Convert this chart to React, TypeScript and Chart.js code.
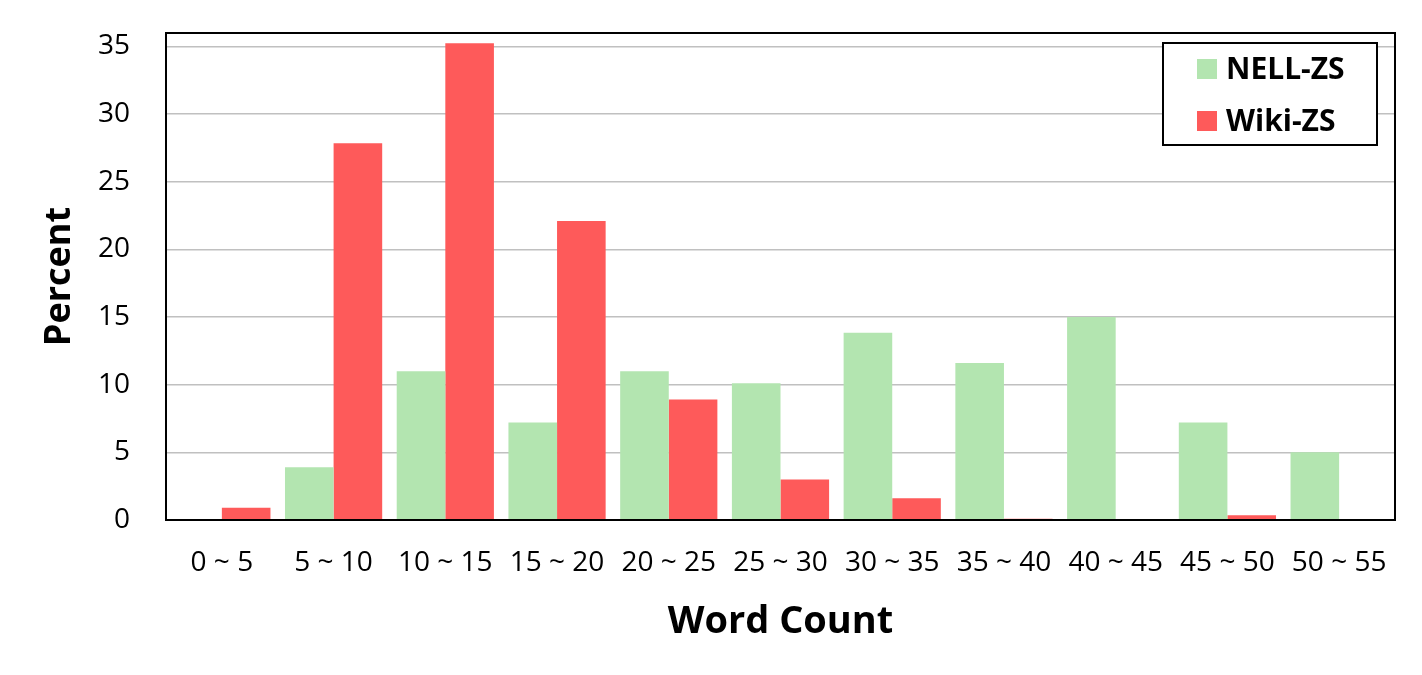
import React, { useEffect, useRef } from "react";
import { Chart, registerables } from "chart.js";

Chart.register(...registerables);

const categories = ["0 ~ 5", "5 ~ 10", "10 ~ 15", "15 ~ 20", "20 ~ 25", "25 ~ 30", "30 ~ 35", "35 ~ 40", "40 ~ 45", "45 ~ 50", "50 ~ 55"];
const nellValues = [0, 3.9, 11.0, 7.2, 11.0, 10.1, 13.85, 11.6, 15.0, 7.2, 5.0];
const wikiValues = [0.9, 27.85, 35.25, 22.1, 8.9, 3.0, 1.6, 0.1, 0, 0.35, 0];
const yTicks = [0, 5, 10, 15, 20, 25, 30, 35];

const GREEN = "#b3e5b0";
const RED = "#fe5a5a";
const FONT = "'Open Sans', 'DejaVu Sans', sans-serif";

const framePlugin = {
  id: "frameAndLegend",
  afterDraw(chart: any) {
    const { ctx, chartArea } = chart;
    ctx.save();
    ctx.strokeStyle = "#000";
    ctx.lineWidth = 2;
    ctx.strokeRect(chartArea.left, chartArea.top, chartArea.right - chartArea.left, chartArea.bottom - chartArea.top);

    // legend box
    const bx = 1163, by = 43, bw = 214, bh = 102;
    ctx.fillStyle = "#fff";
    ctx.fillRect(bx, by, bw, bh);
    ctx.lineWidth = 2;
    ctx.strokeRect(bx, by, bw, bh);
    const items = chart.data.datasets;
    ctx.font = `bold 30px ${FONT}`;
    ctx.textBaseline = "middle";
    ctx.textAlign = "left";
    items.forEach((ds: any, i: number) => {
      const cy = by + 26 + i * 52;
      ctx.fillStyle = ds.backgroundColor;
      ctx.fillRect(bx + 34, cy - 10, 20, 20);
      ctx.fillStyle = "#000";
      ctx.fillText(ds.label, bx + 63, cy + 1);
    });
    ctx.restore();
  },
};

export default function App() {
  const ref = useRef<HTMLCanvasElement>(null);
  useEffect(() => {
    document.body.style.margin = "0";
    const chart = new Chart(ref.current!, {
      type: "bar",
      data: {
        labels: categories,
        datasets: [
          { label: "NELL-ZS", data: nellValues, backgroundColor: GREEN, categoryPercentage: 0.87, barPercentage: 1.0 },
          { label: "Wiki-ZS", data: wikiValues, backgroundColor: RED, categoryPercentage: 0.87, barPercentage: 1.0 },
        ],
      },
      options: {
        animation: false,
        responsive: false,
        maintainAspectRatio: false,
        layout: { padding: { top: 33, right: 27, left: 0, bottom: 0 } },
        plugins: {
          legend: { display: false },
          tooltip: { enabled: false },
        },
        scales: {
          x: {
            grid: { display: false, drawTicks: false },
            border: { display: true, color: "#000", width: 2 },
            ticks: { color: "#000", font: { family: FONT, size: 28 }, padding: 26, maxRotation: 0 },
            title: { display: true, text: "Word Count", color: "#000", font: { family: FONT, size: 38, weight: "bold" }, padding: { top: 0, bottom: 30 } },
            afterFit(scale: any) { scale.height = 155; scale.paddingLeft = 0; scale.paddingRight = 0; },
          },
          y: {
            min: 0,
            max: 36,
            grid: { color: "#c0c0c0", lineWidth: 1.5, drawTicks: false },
            border: { display: true, color: "#000", width: 2 },
            ticks: { color: "#000", font: { family: FONT, size: 28 }, padding: 36 },
            afterBuildTicks(scale: any) { scale.ticks = yTicks.map((v) => ({ value: v })); },
            title: { display: true, text: "Percent", color: "#000", font: { family: FONT, size: 36, weight: "bold" }, padding: { top: 38, bottom: 0 } },
            afterFit(scale: any) { scale.width = 166; scale.paddingTop = 0; scale.paddingBottom = 0; },
          },
        },
      },
      plugins: [framePlugin],
    });
    return () => chart.destroy();
  }, []);
  return (
    <div style={{ position: "relative", width: 1422, height: 675, background: "#fff" }}>
      <canvas ref={ref} width={1422} height={675} style={{ width: 1422, height: 675 }} />
    </div>
  );
}
